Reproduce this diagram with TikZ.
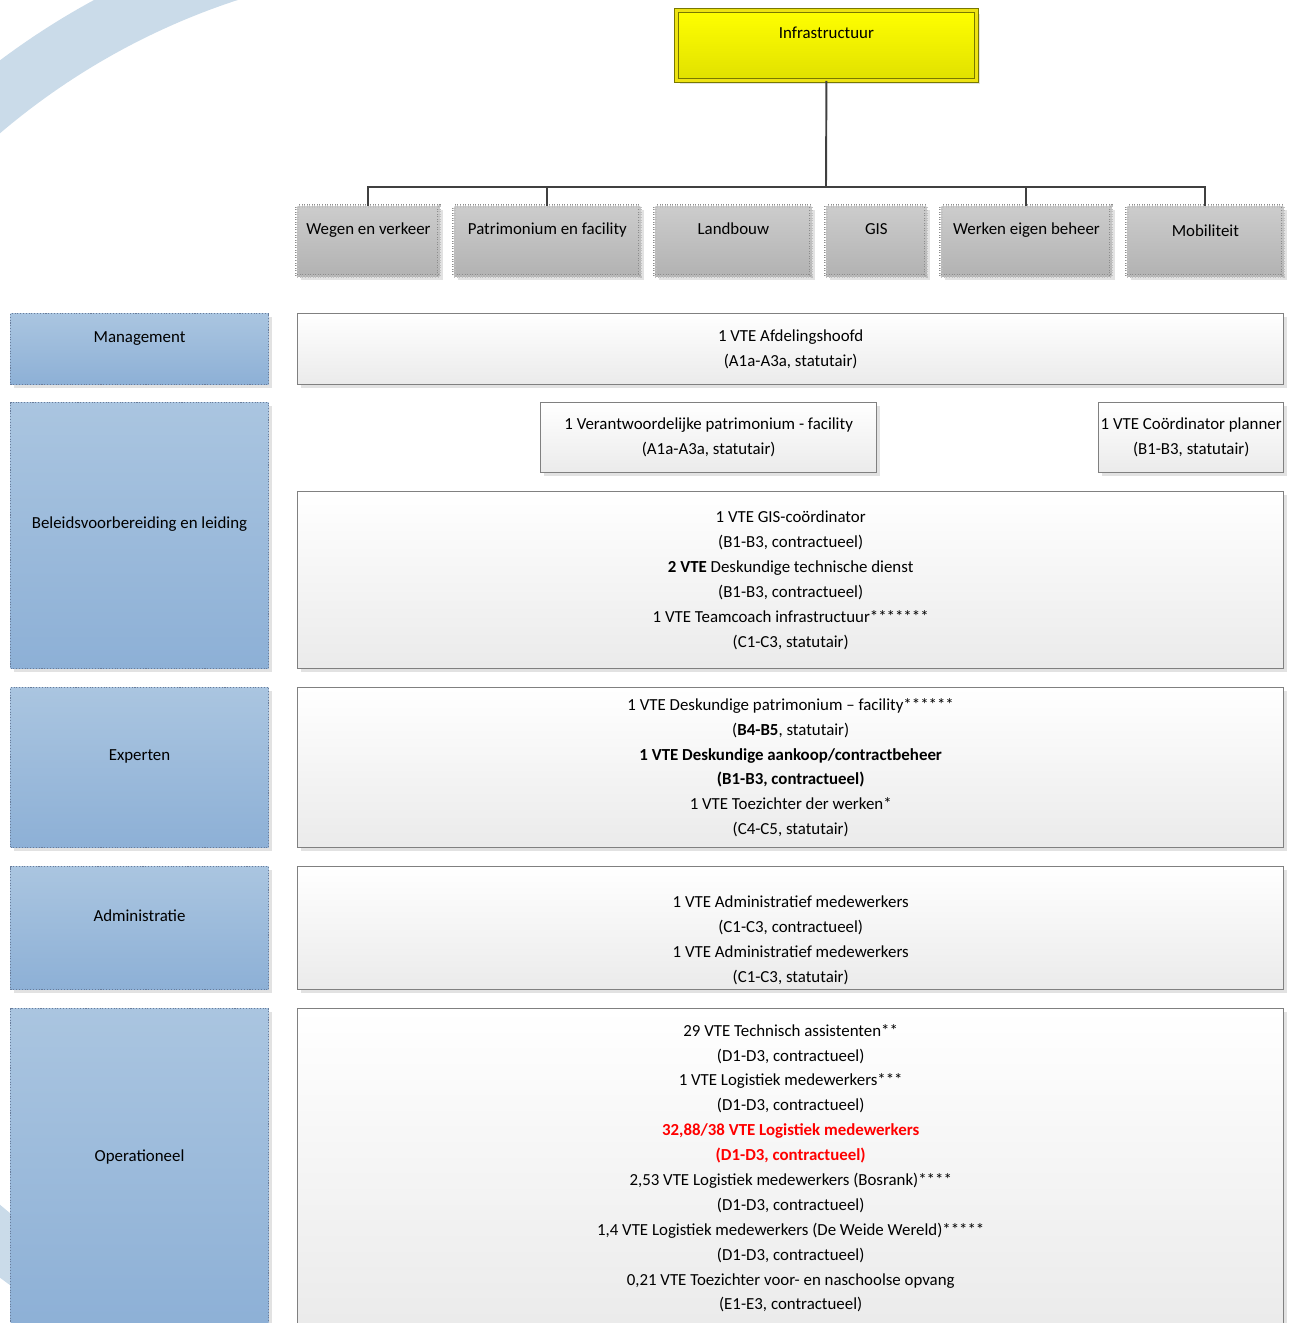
\documentclass[tikz,border=0pt]{standalone}
\usepackage{fontspec}
\setmainfont{Carlito}
\usepackage{xcolor}
\usetikzlibrary{shadows,positioning}
\newlength\pxu
\setlength\pxu{0.02cm}
\definecolor{swoosh}{RGB}{202,219,233}
\definecolor{bluetop}{RGB}{170,197,224}
\definecolor{bluebot}{RGB}{141,176,214}
\definecolor{bluerim}{RGB}{105,125,155}
\definecolor{greytop}{RGB}{204,204,204}
\definecolor{greybot}{RGB}{178,178,178}
\definecolor{linegrey}{RGB}{64,64,64}
\definecolor{olivrim}{RGB}{120,120,0}

\begin{document}
\begin{tikzpicture}[x=0.02cm,y=-0.02cm]
		\tikzstyle{every node}=[font=\fontsize{9.6}{14.17}\selectfont, inner sep=0pt, anchor=north west]
		\tikzstyle{shade}=[drop shadow={shadow xshift=1.8pt, shadow yshift=-1.8pt, opacity=0.25, fill=black!45}]
		\tikzstyle{whitebox}=[shade, draw=black!50, line width=0.8pt, top color=white, bottom color=black!8, align=center]
		\tikzstyle{greybox}=[shade, draw=black!45, densely dotted, double=black!25, double distance=1.4pt, line width=0.45pt, top color=greytop, bottom color=greybot]
		\tikzstyle{bluebox}=[shade, draw=bluerim, densely dotted, line width=0.6pt, top color=bluetop, bottom color=bluebot]
		\tikzstyle{conn}=[draw=linegrey, line width=1.1pt]
		\useasboundingbox (0,0) rectangle (1300,1323);
		% background swoosh
		\begin{scope}
			\clip (0,0) rectangle (297,1323);
			\draw [swoosh, line width=57*\pxu] (456,669) circle [radius=732*\pxu];
		\end{scope}
		% top
		\node [shade, draw=olivrim, double=yellow!92!black, double distance=1.6pt, line width=0.5pt, top color=yellow, bottom color=yellow!88!black, minimum width=300*\pxu, minimum height=70*\pxu, text height=28*\pxu, text depth=42*\pxu] (infra) at (676,10) {Infrastructuur};
		% diensten
		\node [greybox, minimum width=142*\pxu, minimum height=70*\pxu, text height=28*\pxu, text depth=42*\pxu] (wegen) at (297,206) {Wegen en verkeer};
		\node [greybox, minimum width=186*\pxu, minimum height=70*\pxu, text height=28*\pxu, text depth=42*\pxu] (patri) at (454,206) {Patrimonium en facility};
		\node [greybox, minimum width=156*\pxu, minimum height=70*\pxu, text height=28*\pxu, text depth=42*\pxu] (landb) at (655,206) {Landbouw};
		\node [greybox, minimum width=100*\pxu, minimum height=70*\pxu, text height=28*\pxu, text depth=42*\pxu] (gis) at (826,206) {GIS};
		\node [greybox, minimum width=170*\pxu, minimum height=70*\pxu, text height=28*\pxu, text depth=42*\pxu] (werken) at (941,206) {Werken eigen beheer};
		\node [greybox, minimum width=156*\pxu, minimum height=70*\pxu, text height=30*\pxu, text depth=40*\pxu] (mobil) at (1127,206) {Mobiliteit};
		\coordinate (bus) at (826,187);
		\draw [conn] (infra.south) -- (bus);
		\foreach \n in {wegen,patri,werken,mobil}
			\draw [conn] (bus) -| (\n.north);
		% niveaus
		\node [bluebox, minimum width=258*\pxu, minimum height=71*\pxu, text height=28.5*\pxu, text depth=42.5*\pxu] (mgmt) at (10,313) {Management};
		\node [bluebox, minimum width=258*\pxu, minimum height=266*\pxu, text height=126*\pxu, text depth=140*\pxu] (beleid) at (10,402) {Beleidsvoorbereiding en leiding};
		\node [bluebox, minimum width=258*\pxu, minimum height=160*\pxu, text height=73*\pxu, text depth=87*\pxu] (exp) at (10,687) {Experten};
		\node [bluebox, minimum width=258*\pxu, minimum height=123*\pxu, text height=54.5*\pxu, text depth=68.5*\pxu] (admin) at (10,866) {Administratie};
		\node [bluebox, minimum width=258*\pxu, minimum height=319*\pxu, text height=152.5*\pxu, text depth=166.5*\pxu] (oper) at (10,1008) {Operationeel};
		% functies
		\node [whitebox, minimum width=986*\pxu, minimum height=71*\pxu] (afd) at (297,313) {1 VTE Afdelingshoofd\\(A1a-A3a, statutair)};
		\node [whitebox, minimum width=336*\pxu, minimum height=70*\pxu] (verant) at (540,402) {1 Verantwoordelijke patrimonium - facility\\(A1a-A3a, statutair)};
		\node [whitebox, minimum width=185*\pxu, minimum height=70*\pxu] (coord) at (1098,402) {1 VTE Coördinator planner\\(B1-B3, statutair)};
		\node [whitebox, minimum width=986*\pxu, minimum height=177*\pxu] (gisc) at (297,491) {1 VTE GIS-coördinator\\(B1-B3, contractueel)\\\textbf{2 VTE} Deskundige technische dienst\\(B1-B3, contractueel)\\1 VTE Teamcoach infrastructuur*******\\(C1-C3, statutair)};
		\node [whitebox, minimum width=986*\pxu, minimum height=160*\pxu] (expc) at (297,687) {1 VTE Deskundige patrimonium -- facility******\\(\textbf{B4-B5}, statutair)\\\textbf{1 VTE Deskundige aankoop/contractbeheer}\\\textbf{(B1-B3, contractueel)}\\1 VTE Toezichter der werken*\\(C4-C5, statutair)};
		\node [whitebox, minimum width=986*\pxu, minimum height=123*\pxu] (adminc) at (297,866) {\rule{0pt}{20.3pt}1 VTE Administratief medewerkers\\(C1-C3, contractueel)\\1 VTE Administratief medewerkers\\(C1-C3, statutair)};
		\node [whitebox, minimum width=986*\pxu, minimum height=319*\pxu] (operc) at (297,1008) {29 VTE Technisch assistenten**\\(D1-D3, contractueel)\\1 VTE Logistiek medewerkers***\\(D1-D3, contractueel)\\\textcolor{red}{\textbf{32,88/38 VTE Logistiek medewerkers}}\\\textcolor{red}{\textbf{(D1-D3, contractueel)}}\\2,53 VTE Logistiek medewerkers (Bosrank)****\\(D1-D3, contractueel)\\1,4 VTE Logistiek medewerkers (De Weide Wereld)*****\\(D1-D3, contractueel)\\0,21 VTE Toezichter voor- en naschoolse opvang\\(E1-E3, contractueel)};
	\end{tikzpicture}
\end{document}
